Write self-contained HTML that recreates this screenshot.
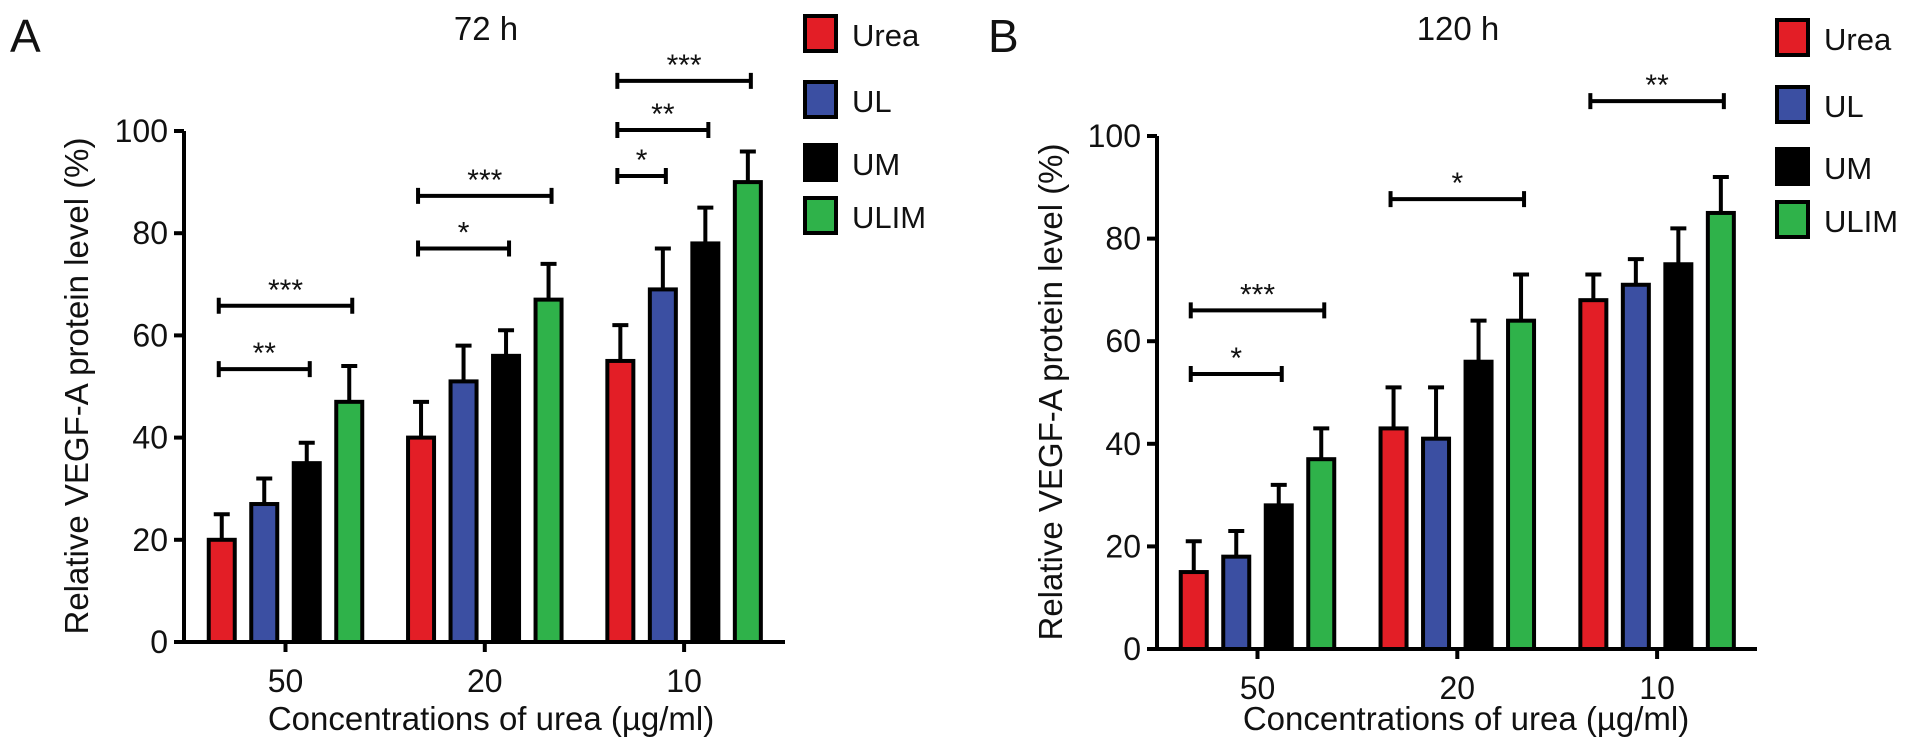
<!DOCTYPE html>
<html><head><meta charset="utf-8"><style>
html,body{margin:0;padding:0;background:#fff;}
svg{display:block;font-family:"Liberation Sans",Arial,sans-serif;}
</style></head><body>
<svg id="fig" width="1913" height="754" viewBox="0 0 1913 754"></svg>
<script>
const categories = ["50","20","10"];
const seriesNames = ["Urea","UL","UM","ULIM"];
const seriesColors = ["#e31e26","#3b4fa2","#000000","#2fb24a"];
const yTicks = [0,20,40,60,80,100];
// Panel A (72 h)
const aUrea = [20,40,55], aUL = [27,51,69], aUM = [35,56,78], aULIM = [47,67,90];
const aUreaErr = [5,7,7], aULErr = [5,7,8], aUMErr = [4,5,7], aULIMErr = [7,7,6];
// Panel B (120 h)
const bUrea = [15,43,68], bUL = [18,41,71], bUM = [28,56,75], bULIM = [37,64,85];
const bUreaErr = [6,8,5], bULErr = [5,10,5], bUMErr = [4,8,7], bULIMErr = [6,9,7];
// significance brackets: [group, fromSeries, toSeries, yValue, label]
const aSig = [[0,0,2,53.4,"**"],[0,0,3,65.8,"***"],[1,0,2,77,"*"],[1,0,3,87.3,"***"],[2,0,1,91.2,"*"],[2,0,2,100.2,"**"],[2,0,3,109.8,"***"]];
const bSig = [[0,0,2,53.6,"*"],[0,0,3,66,"***"],[1,0,3,87.7,"*"],[2,0,3,106.8,"**"]];

const NS="http://www.w3.org/2000/svg";
const svg=document.getElementById('fig');
function mk(tag,attrs,parent){const e=document.createElementNS(NS,tag);for(const k in attrs)e.setAttribute(k,attrs[k]);(parent||svg).appendChild(e);return e;}

function panel(o){
  const g=mk('g',{});
  
  
  const y=v=>o.y0-(v/100)*(o.y0-o.y100);
  const gx=i=>o.gx0+i*o.gpitch;
  const bx=(i,s)=>gx(i)+(s-1.5)*42.5;
  let t=mk('text',{x:o.letterX,y:52,'font-size':46,fill:'#111'},g);t.textContent=o.letter;
  
  
  t=mk('text',{x:o.titleX,y:40,'font-size':33,'text-anchor':'middle',fill:'#111'},g);t.textContent=o.title;
  
  
  o.data.forEach((arr,s)=>{
    arr.forEach((v,i)=>{
      const cx=bx(i,s), top=y(v), et=y(v+o.err[s][i]);
      const eb=mk('path',{d:`M${cx} ${top} V${et} M${cx-8} ${et} H${cx+8}`,stroke:'#000','stroke-width':4,fill:'none'},g);
      
      
      const r=mk('rect',{x:cx-13,y:top,width:26,height:o.y0-top,fill:seriesColors[s],stroke:'#000','stroke-width':4},g);
      
      
    });
  });
  const ax=mk('path',{d:`M${o.ax} ${o.y100} V${o.y0} M${o.ax-8} ${o.y0} H${o.xEnd}`,stroke:'#000','stroke-width':4,fill:'none'},g);
  
  
  yTicks.forEach(v=>{
    const tk=mk('line',{x1:o.ax-10,x2:o.ax,y1:y(v),y2:y(v),stroke:'#000','stroke-width':4},g);
    
    
    const l=mk('text',{x:o.ax-16,y:y(v)+11,'font-size':32,'text-anchor':'end',fill:'#111'},g);l.textContent=v;
    
    
  });
  categories.forEach((c,i)=>{
    const tk=mk('line',{x1:gx(i),x2:gx(i),y1:o.y0,y2:o.y0+10,stroke:'#000','stroke-width':4},g);
    
    
    const l=mk('text',{x:gx(i),y:o.y0+50,'font-size':32,'text-anchor':'middle',fill:'#111'},g);l.textContent=c;
    
    
  });
  t=mk('text',{x:o.xTitleX,y:730,'font-size':33,'text-anchor':'middle',fill:'#111'},g);t.textContent='Concentrations of urea (\u00b5g/ml)';
  
  
  t=mk('text',{x:0,y:0,'font-size':33,'text-anchor':'middle',fill:'#111',transform:`translate(${o.yTitleX},${o.yTitleY}) rotate(-90)`},g);t.textContent='Relative VEGF-A protein level (%)';
  
  
  o.sig.forEach(sg=>{
    const x1=bx(sg[0],sg[1])-3, x2=bx(sg[0],sg[2])+3, yy=y(sg[3]);
    const p=mk('path',{d:`M${x1} ${yy-8} V${yy+8} M${x1} ${yy} H${x2} M${x2} ${yy-8} V${yy+8}`,stroke:'#000','stroke-width':4,fill:'none'},g);
    
    
    const l=mk('text',{x:(x1+x2)/2,y:yy-6,'font-size':30,'text-anchor':'middle',fill:'#111'},g);l.textContent=sg[4];
    
    
  });
  o.legY.forEach((ly,s)=>{
    const r=mk('rect',{x:o.legX,y:ly,width:31,height:35,fill:seriesColors[s],stroke:'#000','stroke-width':4},g);
    
    
    const l=mk('text',{x:o.legX+47,y:ly+30,'font-size':31,fill:'#111'},g);l.textContent=seriesNames[s];
    
    
  });
}
panel({id:'a',letter:'A',letterX:10,title:'72 h',titleX:486,y0:642,y100:131,ax:184,xEnd:785,gx0:285.5,gpitch:199.3,
  data:[aUrea,aUL,aUM,aULIM],err:[aUreaErr,aULErr,aUMErr,aULIMErr],sig:aSig,
  xTitleX:491,yTitleX:88,yTitleY:386,legX:805,legY:[16,82,145,198]});
panel({id:'b',letter:'B',letterX:988,title:'120 h',titleX:1458,y0:649,y100:136,ax:1157,xEnd:1757,gx0:1257.5,gpitch:199.8,
  data:[bUrea,bUL,bUM,bULIM],err:[bUreaErr,bULErr,bUMErr,bULIMErr],sig:bSig,
  xTitleX:1466,yTitleX:1062,yTitleY:392,legX:1777,legY:[20,87,149,202]});
</script>
</body></html>
